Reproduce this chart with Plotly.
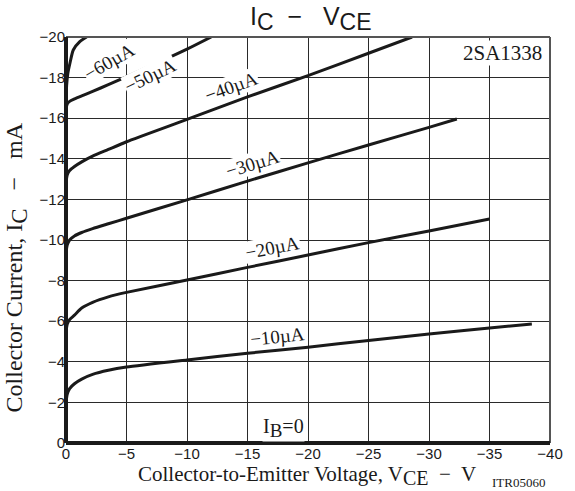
import plotly.graph_objects as go

# ---- data ----
v_10 = [0, -0.1, -0.3, -0.7, -1.3, -2.2, -3.5, -5, -10, -15, -20, -25, -30, -35, -38.5]
i_10 = [-1.97, -2.4, -2.68, -2.92, -3.15, -3.38, -3.58, -3.74, -4.09, -4.42, -4.72, -5.05, -5.37, -5.67, -5.86]

v_20 = [0, -0.1, -0.3, -0.7, -1.3, -2.2, -3.5, -5, -10, -15, -20, -25, -30, -35]
i_20 = [-5.48, -5.85, -6.08, -6.3, -6.65, -6.93, -7.2, -7.42, -8.03, -8.65, -9.26, -9.87, -10.44, -11.03]

v_30 = [0, -0.1, -0.3, -0.7, -1.3, -2.2, -3.5, -5, -10, -15, -20, -25, -30, -32.3]
i_30 = [-9.36, -9.75, -10.0, -10.2, -10.37, -10.56, -10.8, -11.07, -11.98, -12.9, -13.8, -14.68, -15.55, -15.96]

v_40 = [0, -0.1, -0.3, -0.7, -1.3, -2.2, -3.5, -5, -10, -15, -20, -25, -28.6]
i_40 = [-12.8, -13.2, -13.42, -13.62, -13.85, -14.13, -14.46, -14.84, -15.94, -17.05, -18.1, -19.2, -20.0]

v_50 = [0, -0.1, -0.3, -0.7, -1.3, -2.2, -3.5, -5, -10, -12.0]
i_50 = [-16.45, -16.7, -16.83, -16.95, -17.1, -17.32, -17.65, -18.04, -19.4, -20.0]

v_60 = [0, -0.05, -0.15, -0.33, -0.6, -1.14, -1.7]
i_60 = [-16.5, -17.6, -18.2, -18.72, -19.36, -19.77, -20.0]

curves = [(v_10, i_10), (v_20, i_20), (v_30, i_30), (v_40, i_40), (v_50, i_50), (v_60, i_60)]

# curve labels
label_text = ["\u221260\u00b5A", "\u221250\u00b5A", "\u221240\u00b5A", "\u221230\u00b5A", "\u221220\u00b5A", "\u221210\u00b5A"]
label_x = [-3.6, -7.0, -13.7, -15.45, -17.1, -17.5]
label_y = [-18.77, -18.08, -17.54, -13.79, -9.61, -5.27]
label_angle = [-30, -26, -20, -17, -11, -6]

x_ticks = [0, -5, -10, -15, -20, -25, -30, -35, -40]
y_ticks = [0, -2, -4, -6, -8, -10, -12, -14, -16, -18, -20]

fig = go.Figure()
for v, i in curves:
    fig.add_trace(go.Scatter(x=v, y=i, mode="lines",
                             line=dict(color="#1a1a1a", width=3, shape="spline", smoothing=0.6),
                             showlegend=False, hoverinfo="skip"))

serif = "Liberation Serif, Times New Roman, serif"
sans = "Liberation Sans, Arial, sans-serif"
ink = "#1a1a1a"


def big_sub(s, px):
    return "<sub><span style='font-size:%dpx'>%s</span></sub>" % (px, s)


for t, x, y, a in zip(label_text, label_x, label_y, label_angle):
    fig.add_annotation(x=x, y=y, xref="x", yref="y", text=t, showarrow=False, textangle=a,
                       xanchor="center", yanchor="middle",
                       font=dict(family=serif, size=19, color=ink), bgcolor="white", borderpad=0)

fig.add_annotation(x=-17.97, y=-0.74, xref="x", yref="y", text="I" + big_sub("B", 19) + "=0", showarrow=False,
                   xanchor="center", yanchor="middle",
                   font=dict(family=serif, size=20, color=ink), bgcolor="white", borderpad=0)

fig.add_annotation(x=0.902, y=0.9606, xref="paper", yref="paper", text="2SA1338", showarrow=False,
                   xanchor="center", yanchor="middle",
                   font=dict(family=serif, size=21, color=ink), bgcolor="white", borderpad=0)

fig.add_annotation(x=0.506, y=1.045, xref="paper", yref="paper",
                   text="I" + big_sub("C", 23) + "  \u2212   V" + big_sub("CE", 23),
                   showarrow=False, xanchor="center", yanchor="middle",
                   font=dict(family=sans, size=25, color=ink))

fig.add_annotation(x=-0.1016, y=0.432, xref="paper", yref="paper",
                   text="Collector Current, I" + big_sub("C", 23) + "   \u2212   mA",
                   showarrow=False, textangle=-90, xanchor="center", yanchor="middle",
                   font=dict(family=serif, size=24, color=ink))

fig.add_annotation(x=0.497, y=-0.081, xref="paper", yref="paper",
                   text="Collector-to-Emitter Voltage, V" + big_sub("CE", 20) + "  \u2212  V",
                   showarrow=False, xanchor="center", yanchor="middle",
                   font=dict(family=serif, size=21, color=ink))

fig.add_annotation(x=0.935, y=-0.0985, xref="paper", yref="paper", text="ITR05060", showarrow=False,
                   xanchor="center", yanchor="middle",
                   font=dict(family=serif, size=13, color=ink))

# frame: thick left/bottom, thin grey top/right
fig.add_shape(type="line", xref="paper", yref="paper", x0=0, x1=1, y0=1, y1=1, line=dict(color="#555", width=2))
fig.add_shape(type="line", xref="paper", yref="paper", x0=1, x1=1, y0=0, y1=1, line=dict(color="#555", width=2))
fig.add_shape(type="line", xref="paper", yref="paper", x0=0, x1=1, y0=0, y1=0, line=dict(color=ink, width=4))
fig.add_shape(type="line", xref="paper", yref="paper", x0=0, x1=0, y0=0, y1=1, line=dict(color=ink, width=4))

fig.update_xaxes(range=[0, -40], tickvals=x_ticks, showgrid=True, gridcolor="#2a2a2a", gridwidth=1,
                 zeroline=False, showline=False, ticks="",
                 tickfont=dict(family=sans, size=15, color=ink))
fig.update_yaxes(range=[0, -20], tickvals=y_ticks, showgrid=True, gridcolor="#2a2a2a", gridwidth=1,
                 zeroline=False, showline=False, ticks="",
                 tickfont=dict(family=sans, size=15, color=ink))

fig.update_layout(width=575, height=491, margin=dict(l=66, r=18, t=37, b=48),
                  plot_bgcolor="white", paper_bgcolor="white")

fig.write_html("out.html")
